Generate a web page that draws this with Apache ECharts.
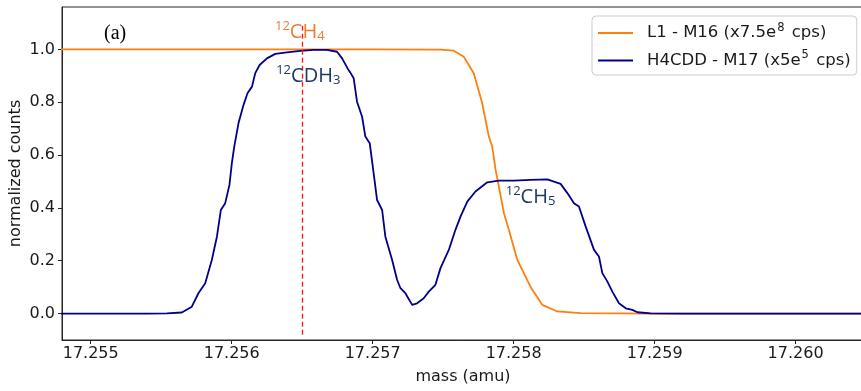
<!DOCTYPE html>
<html>
<head>
<meta charset="utf-8">
<script src="https://cdn.jsdelivr.net/npm/echarts@6/dist/echarts.min.js"></script>
<style>
html,body{margin:0;padding:0;background:#fff;}
#chart{width:861px;height:391px;}
</style>
</head>
<body>
<div id="chart"></div>
<script>
// ---- data ----
const seriesNames = ['L1 - M16', 'H4CDD - M17'];
const scaleMantissa = ['7.5', '5'];
const scaleExponent = ['8', '5'];

const massL1 = [17.2547, 17.2570, 17.257481, 17.257575, 17.257646, 17.257717, 17.257777, 17.257824, 17.257848, 17.257872, 17.257895, 17.257931, 17.257966, 17.258026, 17.25812, 17.258203, 17.25831, 17.258475, 17.258759, 17.259, 17.2606];
const countsL1 = [1, 1, 0.999, 0.995, 0.972, 0.91, 0.796, 0.67, 0.632, 0.544, 0.481, 0.38, 0.317, 0.203, 0.101, 0.033, 0.008, 0.002, 0.001, 0, 0];

const massM17 = [17.2547, 17.2552, 17.2554, 17.25554, 17.255646, 17.255717, 17.255764, 17.255812, 17.255859, 17.255895, 17.255923, 17.255954, 17.255984, 17.256001, 17.256018, 17.256048, 17.256084, 17.256112, 17.256144, 17.256167, 17.256198, 17.25625, 17.256309, 17.256392, 17.256487, 17.256581, 17.256676, 17.256747, 17.256783, 17.256822, 17.256842, 17.256865, 17.256889, 17.256925, 17.256948, 17.256979, 17.257007, 17.257031, 17.257067, 17.25709, 17.257138, 17.257173, 17.257197, 17.257232, 17.25728, 17.257315, 17.257362, 17.257398, 17.257445, 17.257481, 17.25754, 17.257587, 17.257623, 17.257671, 17.257729, 17.257813, 17.257895, 17.258001, 17.25812, 17.258239, 17.258333, 17.258381, 17.258428, 17.258463, 17.258511, 17.25857, 17.258605, 17.258629, 17.258665, 17.2587, 17.258747, 17.258795, 17.258842, 17.258878, 17.258972, 17.2592, 17.26, 17.2606];
const countsM17 = [0, 0, 0, 0.001, 0.004, 0.026, 0.077, 0.115, 0.203, 0.291, 0.392, 0.418, 0.487, 0.569, 0.632, 0.72, 0.79, 0.834, 0.859, 0.91, 0.941, 0.966, 0.983, 0.989, 0.994, 0.998, 0.998, 0.991, 0.966, 0.928, 0.912, 0.891, 0.802, 0.745, 0.67, 0.645, 0.531, 0.43, 0.392, 0.291, 0.203, 0.128, 0.096, 0.077, 0.033, 0.039, 0.058, 0.083, 0.109, 0.172, 0.241, 0.317, 0.367, 0.424, 0.462, 0.497, 0.503, 0.503, 0.506, 0.508, 0.491, 0.456, 0.418, 0.405, 0.329, 0.241, 0.216, 0.153, 0.121, 0.083, 0.039, 0.02, 0.014, 0.005, 0.001, 0, 0, 0];

const xTicks = [17.255, 17.256, 17.257, 17.258, 17.259, 17.260];
const yTicks = [0.0, 0.2, 0.4, 0.6, 0.8, 1.0];

const refMass = 17.2565;
const refRange = [-0.08, 1.1];

const annotSup = ['12', '12', '12'];
const annotMain = ['CH', 'CDH', 'CH'];
const annotSub = ['4', '3', '5'];
const annotMass = [17.256483, 17.256543, 17.25812];
const annotCount = [1.064, 0.899, 0.442];
const panelLabel = '(a)';
const panelPos = [17.255173, 1.058];

// ---- chart ----
const orange = '#ff7f0e';
const blue = '#00008b';
const annotOrange = '#ed7d31';
const annotBlue = '#203864';
const tickFont = 'DejaVu Sans';

function zip(a, b) { return a.map((v, i) => [v, b[i]]); }

function annotRich(color) {
  return {
    p: { fontSize: 13, fontFamily: 'Open Sans', color: color, padding: [0, 0, 12, 0] },
    m: { fontSize: 20, fontFamily: 'Open Sans', color: color },
    b: { fontSize: 13, fontFamily: 'Open Sans', color: color, padding: [8, 0, 0, 0] }
  };
}

const annotData = annotMain.map((m, i) => {
  const color = i === 0 ? annotOrange : annotBlue;
  return {
    coord: [annotMass[i], annotCount[i]],
    label: {
      show: true,
      position: 'inside',
      formatter: '{p|' + annotSup[i] + '}{m|' + m + '}{b|' + annotSub[i] + '}',
      rich: annotRich(color)
    }
  };
});
annotData.push({
  coord: panelPos,
  label: {
    show: true, position: 'inside', formatter: panelLabel,
    fontFamily: 'Liberation Serif', fontSize: 20, color: '#000'
  }
});

const chart = echarts.init(document.getElementById('chart'), null, { renderer: 'canvas' });
chart.setOption({
  animation: false,
  backgroundColor: '#fff',
  grid: {
    left: 62, top: 7, right: -3, bottom: 51,
    containLabel: false, outerBoundsMode: 'none',
    show: true, borderColor: '#262626', borderWidth: 1, backgroundColor: 'transparent'
  },
  legend: {
    left: 592, top: 16, orient: 'vertical',
    padding: [6, 6, 6, 6], itemGap: 8,
    itemWidth: 35, itemHeight: 2, icon: 'rect',
    backgroundColor: 'rgba(255,255,255,0.85)',
    borderColor: '#cccccc', borderWidth: 1, borderRadius: 4,
    data: seriesNames,
    formatter: function (name) {
      const i = seriesNames.indexOf(name);
      return '{g|}{a|' + name + ' (x' + scaleMantissa[i] + 'e}{s|' + scaleExponent[i] + '}{a| cps)}';
    },
    textStyle: {
      rich: {
        g: { width: 9, lineHeight: 20 },
        a: { fontSize: 16.5, fontFamily: tickFont, color: '#1a1a1a', lineHeight: 20 },
        s: { fontSize: 11.5, fontFamily: tickFont, color: '#1a1a1a', padding: [0, 2, 10, 1] }
      }
    }
  },
  xAxis: {
    type: 'value',
    min: 17.2547962, max: 17.2604851,
    name: 'mass (amu)', nameLocation: 'middle', nameGap: 29, nameMoveOverlap: false,
    nameTextStyle: { fontFamily: tickFont, fontSize: 16, color: '#1a1a1a' },
    axisLine: { show: true, onZero: false, lineStyle: { color: '#262626', width: 1 } },
    axisTick: { show: true, inside: false, length: 4, customValues: xTicks, lineStyle: { color: '#262626' } },
    axisLabel: {
      customValues: xTicks, margin: 6,
      fontFamily: tickFont, fontSize: 16, color: '#1a1a1a',
      formatter: v => Number(v).toFixed(3)
    },
    splitLine: { show: false }
  },
  yAxis: {
    type: 'value',
    min: -0.1, max: 1.1604,
    name: 'normalized counts', nameLocation: 'middle', nameGap: 38, nameMoveOverlap: false,
    nameTextStyle: { fontFamily: tickFont, fontSize: 16, color: '#1a1a1a' },
    axisLine: { show: true, onZero: false, lineStyle: { color: '#262626', width: 1 } },
    axisTick: { show: true, inside: false, length: 4, customValues: yTicks, lineStyle: { color: '#262626' } },
    axisLabel: {
      customValues: yTicks, margin: 7,
      fontFamily: tickFont, fontSize: 16, color: '#1a1a1a',
      formatter: v => Number(v).toFixed(1)
    },
    splitLine: { show: false }
  },
  series: [
    {
      name: seriesNames[0], type: 'line', data: zip(massL1, countsL1),
      showSymbol: false, symbol: 'none',
      lineStyle: { color: orange, width: 1.8 }, itemStyle: { color: orange },
      markLine: {
        silent: true, symbol: 'none', label: { show: false },
        lineStyle: { color: '#ff1a1a', type: [5, 3], width: 1.3 },
        data: [[{ coord: [refMass, refRange[0]] }, { coord: [refMass, refRange[1]] }]]
      },
      z: 2
    },
    {
      name: seriesNames[1], type: 'line', data: zip(massM17, countsM17),
      showSymbol: false, symbol: 'none',
      lineStyle: { color: blue, width: 1.8 }, itemStyle: { color: blue },
      markPoint: {
        silent: true, symbol: 'circle', symbolSize: 1,
        itemStyle: { color: 'rgba(0,0,0,0)' },
        data: annotData
      },
      z: 3
    }
  ]
});
</script>
</body>
</html>
